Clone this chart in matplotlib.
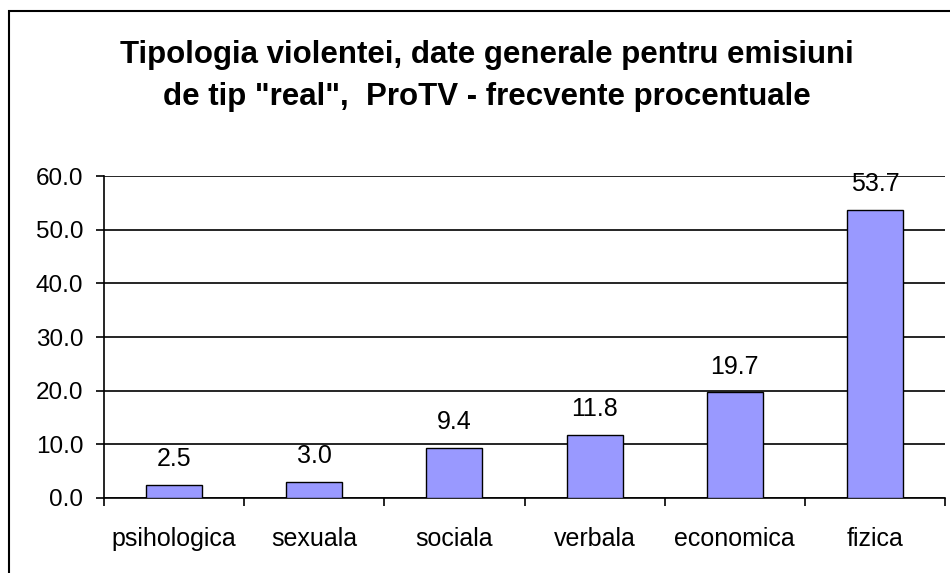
import matplotlib
matplotlib.use("Agg")
import matplotlib.pyplot as plt
from matplotlib.patches import Rectangle

categories = ["psihologica", "sexuala", "sociala", "verbala", "economica", "fizica"]
values = [2.5, 3.0, 9.4, 11.8, 19.7, 53.7]
yticks = [0, 10, 20, 30, 40, 50, 60]
title_lines = ['Tipologia violentei, date generale pentru emisiuni',
               'de tip "real",  ProTV - frecvente procentuale']

plt.rcParams['font.family'] = ['Liberation Sans', 'DejaVu Sans']

W, H = 950, 573
fig = plt.figure(figsize=(W / 100, H / 100), dpi=100)
fig.patch.set_facecolor('white')

# outer chart-area border (extends beyond right/bottom edges like the reference crop)
fig.patches.append(Rectangle((9 / W, -0.05), 1.2, 1 - 11 / H + 0.05, transform=fig.transFigure,
                             fill=False, edgecolor='black', linewidth=1.5, zorder=0))

ax = fig.add_axes([104 / W, 1 - 498 / H, (945 - 104) / W, (498 - 176) / H])
x = list(range(len(categories)))
ax.bar(x, values, width=0.4, color='#9999FF', edgecolor='black', linewidth=1.0, zorder=3)

ax.set_xlim(-0.5, len(categories) - 0.5)
ax.set_ylim(0, 60)
ax.set_yticks(yticks)
ax.set_yticklabels([f"{v:.1f}" for v in yticks], fontsize=17.5)
ax.yaxis.grid(True, color='black', linewidth=1.2, zorder=1)
ax.set_axisbelow(True)

ax.set_xticks([i + 0.5 for i in range(-1, len(categories))], minor=False)
ax.set_xticklabels([])
ax.set_xticks(x, minor=True)
ax.set_xticklabels(categories, minor=True, fontsize=18)
ax.tick_params(axis='x', which='major', length=6, width=1.2, direction='out')
ax.tick_params(axis='x', which='minor', length=0, pad=21)
ax.tick_params(axis='y', length=6, width=1.2, pad=9)

for s in ['top', 'right']:
    ax.spines[s].set_visible(False)
for s in ['left', 'bottom']:
    ax.spines[s].set_linewidth(1.2)

for xi, v in zip(x, values):
    ax.annotate(f"{v:.1f}", (xi, v), xytext=(0, 13.5), textcoords='offset points',
                ha='center', va='baseline', fontsize=18)

fig.text(487 / W, 1 - 63 / H, title_lines[0], ha='center', va='baseline', fontsize=22.5,
         fontweight='bold')
fig.text(487 / W, 1 - 105 / H, title_lines[1], ha='center', va='baseline', fontsize=22.5,
         fontweight='bold')

fig.savefig('out.png', dpi=100)
